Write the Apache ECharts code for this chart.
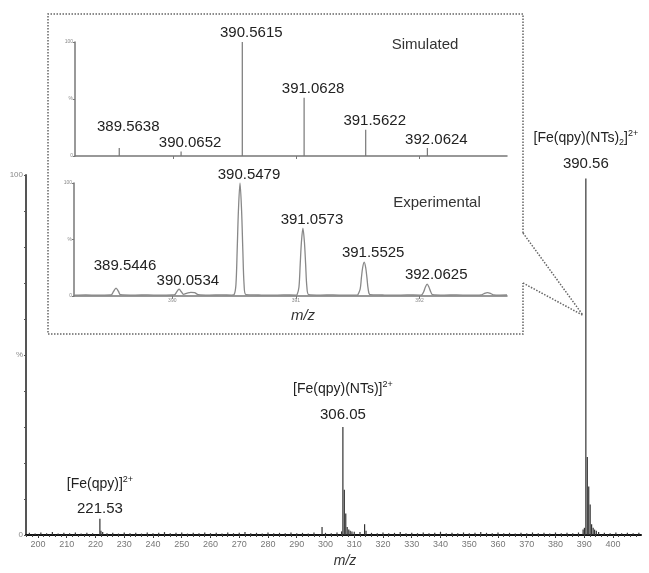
<!DOCTYPE html>
<html><head><meta charset="utf-8">
<script src="https://cdn.jsdelivr.net/npm/echarts@6/dist/echarts.min.js"></script>
<style>html,body{margin:0;padding:0;background:#fff}#c{width:649px;height:573px}</style>
</head><body><div id="c"></div>
<script>
// ---------- data ----------
const mainTickLabels = [200,210,220,230,240,250,260,270,280,290,300,310,320,330,340,350,360,370,380,390,400];
const mainPeaks = [[221.53,4.5],[221.9,1.2],[222.5,0.8],[298.8,2.2],[305.6,1.0],[306.05,30],[306.55,12.6],[307.05,6],[307.55,2.2],[308.1,1.5],[308.6,1.2],[309.2,1],[313.6,3],[314.1,1.2],[389.6,1.5],[390.06,2],[390.56,99],[391.06,21.7],[391.56,13.5],[392.06,8.5],[392.56,3],[393.1,2],[393.6,1.5],[394.2,1.2]];
const mainNoise = [[197,0.6],[199,0.4],[201,0.7],[203,0.5],[205,0.8],[207,0.4],[209,0.6],[211,0.5],[213,0.7],[215,0.4],[217,0.6],[219,0.5],[224,0.5],[226,0.6],[228,0.4],[230,0.7],[232,0.5],[234,0.6],[236,0.4],[238,0.7],[240,0.5],[242,0.6],[244,0.8],[246,0.5],[248,0.6],[250,0.7],[252,0.4],[254,0.6],[256,0.5],[258,0.7],[260,0.5],[262,0.6],[264,0.4],[266,0.7],[268,0.5],[270,0.6],[272,0.8],[274,0.5],[276,0.6],[278,0.4],[280,0.7],[282,0.5],[284,0.6],[286,0.5],[288,0.7],[290,0.5],[292,0.6],[294,0.4],[296,0.7],[300,0.6],[302,0.5],[304,0.7],[310,0.9],[312,0.8],[316,0.6],[318,0.5],[320,0.7],[322,0.5],[324,0.6],[326,0.8],[328,0.5],[330,0.6],[332,0.5],[334,0.7],[336,0.5],[338,0.6],[340,0.9],[342,0.5],[344,0.6],[346,0.5],[348,0.7],[350,0.5],[352,0.6],[354,0.8],[356,0.6],[358,0.5],[360,0.7],[362,0.5],[364,0.6],[366,0.4],[368,0.6],[370,0.5],[372,0.7],[374,0.5],[376,0.6],[378,0.4],[380,0.7],[382,0.5],[384,0.6],[386,0.5],[388,0.7],[395,0.8],[397,0.6],[399,0.5],[401,0.7],[403,0.5],[405,0.6],[407,0.5],[409,0.6]];
const mainLabelMz = [221.53, 306.05, 390.56];
const mainLabelInt = [4.5, 30, 99];
const mainLabelIon = ['{f|[Fe(qpy)]}{sup|2+}', '{f|[Fe(qpy)(NTs)]}{sup|2+}', '{f|[Fe(qpy)(NTs)}{sub|2}{f|]}{sup|2+}'];
const simMz  = [389.5638, 390.0652, 390.5615, 391.0628, 391.5622, 392.0624];
const simInt = [7, 4, 100, 51, 23, 7];
const expProfile = [
 [389.21,0.8],[389.3,1.0],[389.4,0.7],[389.5,0.9],
 [389.51,1.2],[389.525,4],[389.545,7],[389.565,4],[389.58,1.2],
 [389.7,0.8],[389.8,1.0],[389.9,0.7],[390.0,0.9],
 [390.02,1.2],[390.035,3.5],[390.055,6],[390.075,3.5],[390.09,1.5],
 [390.12,2.5],[390.15,3.2],[390.18,3],[390.21,1.2],
 [390.3,0.8],[390.4,1.0],[390.48,0.8],
 [390.50,1.2],[390.515,10],[390.525,40],[390.535,75],[390.548,100],[390.561,75],[390.571,40],[390.581,10],[390.596,1.2],
 [390.7,0.9],[390.8,0.7],[390.9,1.0],[391.0,0.8],
 [391.01,1.2],[391.025,8],[391.035,28],[391.045,48],[391.057,60],[391.069,48],[391.079,28],[391.089,8],[391.104,1.2],
 [391.2,0.8],[391.3,1.0],[391.4,0.7],[391.5,0.9],
 [391.505,1.2],[391.52,6],[391.53,16],[391.54,25],[391.5525,30],[391.565,25],[391.575,16],[391.585,6],[391.6,1.2],
 [391.7,0.9],[391.8,0.7],[391.9,1.0],[392.0,0.8],
 [392.02,1.2],[392.035,4],[392.048,8],[392.062,10.5],[392.076,8],[392.09,4],[392.105,1.2],
 [392.2,0.8],[392.3,1.0],[392.4,0.7],[392.5,1.0],
 [392.52,2],[392.55,3],[392.58,2],[392.6,1],
 [392.65,0.8],[392.708,0.9]
];
const expMz  = [389.5446, 390.0534, 390.5479, 391.0573, 391.5525, 392.0625];
const expInt = [7, 6, 100, 60, 30, 10.6];
const insetTicks = [390, 391, 392];

// ---------- styling ----------
const FONT = 'Liberation Sans, Arial, sans-serif';
const minorTicks = []; for (let v = 196; v <= 409; v += 2) minorTicks.push(v);
const mainLabelDist = [2, 4.5, 7.5];
const simLabelDist = [13.5, 1.5, 1.5, 1.5, 1, 1];
const expLabelDist = [14.5, 1, 1, 1, 1.5, 1.5];

const chart = echarts.init(document.getElementById('c'), null, {renderer: 'canvas'});

const insetY = () => ({
  min: 0, max: 100, interval: 50,
  axisLine: {show: true, lineStyle: {color: '#777', width: 1.5}},
  axisTick: {show: true, length: 2, lineStyle: {color: '#777'}},
  axisLabel: {show: true, fontSize: 5, color: '#888', margin: 2, fontFamily: FONT,
    formatter: v => v === 50 ? '%' : String(v)},
  splitLine: {show: false}
});

const option = {
  animation: false,
  backgroundColor: '#fff',
  grid: [
    {left: 26, top: 175, width: 615, height: 364},
    {left: 75, top: 42, width: 432, height: 114},
    {left: 74, top: 183, width: 433, height: 113}
  ],
  xAxis: [
    {gridIndex: 0, type: 'value', position: 'bottom', min: 195.83, max: 409.74,
      axisLine: {show: true, onZero: false, lineStyle: {color: '#111', width: 2}},
      axisTick: {show: true, customValues: mainTickLabels, length: 3, lineStyle: {color: '#333'}},
      axisLabel: {customValues: mainTickLabels, fontSize: 9, color: '#777', margin: 5, fontFamily: FONT},
      splitLine: {show: false},
      name: 'm/z', nameLocation: 'middle', nameGap: 19,
      nameTextStyle: {fontStyle: 'italic', fontSize: 14, color: '#333', fontFamily: FONT, padding: [0, 0, 0, 23]}
    },
    {gridIndex: 0, type: 'value', position: 'bottom', offset: 0, min: 195.83, max: 409.74,
      axisLine: {show: false, onZero: false},
      axisTick: {show: true, customValues: minorTicks, length: 2, lineStyle: {color: '#444'}},
      axisLabel: {show: false}, splitLine: {show: false}
    },
    {gridIndex: 1, type: 'value', min: 389.205, max: 392.708,
      axisLine: {show: true, lineStyle: {color: '#777', width: 1.5}},
      axisTick: {show: true, customValues: insetTicks, length: 3, lineStyle: {color: '#777'}},
      axisLabel: {show: false}, splitLine: {show: false}
    },
    {gridIndex: 2, type: 'value', min: 389.205, max: 392.708,
      axisLine: {show: true, lineStyle: {color: '#777', width: 1.5}},
      axisTick: {show: true, customValues: insetTicks, length: 3, lineStyle: {color: '#777'}},
      axisLabel: {customValues: insetTicks, fontSize: 5, color: '#888', margin: 2, fontFamily: FONT},
      splitLine: {show: false},
      name: 'm/z', nameLocation: 'middle', nameGap: 12,
      nameTextStyle: {fontStyle: 'italic', fontSize: 15, color: '#333', fontFamily: FONT, padding: [0, 0, 0, 25]}
    }
  ],
  yAxis: [
    {gridIndex: 0, type: 'value', min: 0, max: 100, interval: 10,
      axisLine: {show: true, lineStyle: {color: '#555', width: 2}},
      axisTick: {show: true, length: 2, lineStyle: {color: '#555'}},
      axisLabel: {fontSize: 8, color: '#888', margin: 3, fontFamily: FONT,
        formatter: v => v === 0 ? '0' : v === 100 ? '100' : v === 50 ? '%' : ''},
      splitLine: {show: false}
    },
    Object.assign({gridIndex: 1, type: 'value'}, insetY()),
    Object.assign({gridIndex: 2, type: 'value'}, insetY())
  ],
  series: [
    {type: 'bar', xAxisIndex: 0, yAxisIndex: 0, barWidth: 1.2,
      itemStyle: {color: '#333'}, data: mainNoise.concat(mainPeaks)},
    {type: 'scatter', xAxisIndex: 0, yAxisIndex: 0, symbolSize: 0,
      itemStyle: {opacity: 1},
      data: mainLabelMz.map((m, i) => ({value: [m, mainLabelInt[i]],
        label: {show: true, position: 'top', distance: mainLabelDist[i],
          formatter: mainLabelIon[i] + '\n{n|' + m.toFixed(2) + '}'}})),
      label: {fontFamily: FONT, color: '#222', opacity: 1,
        rich: {
          f: {fontSize: 14, lineHeight: 18, color: '#222', fontFamily: FONT},
          sub: {fontSize: 9, lineHeight: 18, verticalAlign: 'bottom', color: '#222', fontFamily: FONT},
          sup: {fontSize: 9, lineHeight: 18, verticalAlign: 'top', color: '#222', fontFamily: FONT},
          n: {fontSize: 15, lineHeight: 24, verticalAlign: 'bottom', color: '#222', fontFamily: FONT, align: 'center'}
        }}
    },
    {type: 'bar', xAxisIndex: 2, yAxisIndex: 1, barWidth: 1.2,
      itemStyle: {color: '#777'},
      data: simMz.map((m, i) => ({value: [m, simInt[i]],
        label: {show: true, position: 'top', distance: simLabelDist[i], offset: [9, 0],
          formatter: m.toFixed(4)}})),
      label: {fontSize: 15, color: '#222', fontFamily: FONT}
    },
    {type: 'line', xAxisIndex: 3, yAxisIndex: 2, smooth: 0.3, symbol: 'none',
      lineStyle: {color: '#888', width: 1.3}, data: expProfile},
    {type: 'scatter', xAxisIndex: 3, yAxisIndex: 2, symbolSize: 0,
      itemStyle: {opacity: 1},
      data: expMz.map((m, i) => ({value: [m, expInt[i]],
        label: {show: true, position: 'top', distance: expLabelDist[i], offset: [9, 0],
          formatter: m.toFixed(4)}})),
      label: {fontSize: 15, color: '#222', fontFamily: FONT, opacity: 1}
    }
  ]
};
chart.setOption(option);

// annotation: dotted inset frame with callout to the 390.56 peak
const target = chart.convertToPixel({xAxisIndex: 0, yAxisIndex: 0}, [389.6, 61]);
const dotted = {stroke: '#666', lineWidth: 1.5, lineDash: [1.5, 1.5], fill: null};
chart.setOption({
  graphic: [
    {type: 'polyline', silent: true, shape: {points: [[523, 233], [523, 14], [48, 14], [48, 334], [523, 334], [523, 283]]}, style: dotted},
    {type: 'line', silent: true, shape: {x1: 523, y1: 233, x2: target[0], y2: target[1]}, style: dotted},
    {type: 'line', silent: true, shape: {x1: 523, y1: 283, x2: target[0], y2: target[1]}, style: dotted},
    {type: 'text', silent: true, x: 425, y: 45, style: {text: 'Simulated', font: '15px ' + FONT, fill: '#333', align: 'center', verticalAlign: 'middle'}},
    {type: 'text', silent: true, x: 437, y: 203, style: {text: 'Experimental', font: '15px ' + FONT, fill: '#333', align: 'center', verticalAlign: 'middle'}}
  ]
});
</script>
</body></html>
